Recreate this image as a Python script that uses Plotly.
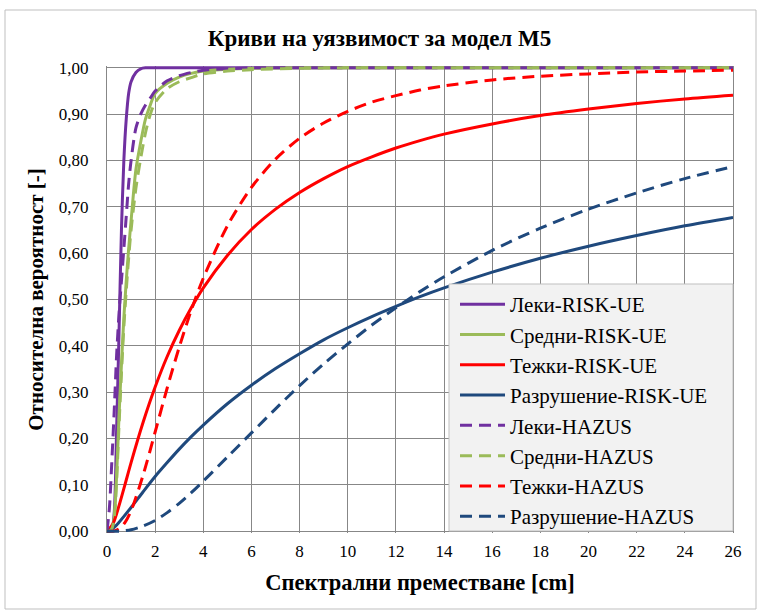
import plotly.graph_objects as go

# Spectral displacement samples [cm]
x_fast = [0, 0.1, 0.2, 0.3, 0.4, 0.5, 0.6, 0.7, 0.8, 0.9, 1.0, 1.2, 1.4, 1.6, 1.8,
          2.0, 2.5, 3.0, 3.5, 4.0, 5.0, 6.0, 8.0, 10.0, 14.0, 18.0, 22.0, 26.0]
x_slow = [0, 0.25, 0.5, 0.75, 1, 1.5, 2, 2.5, 3, 3.5, 4, 5, 6, 7, 8, 9, 10, 11, 12,
          13, 14, 16, 18, 20, 22, 24, 26]

# Exceedance probabilities, RISK-UE
leki_risk = [0, 0, 0.003, 0.04, 0.22, 0.43, 0.65, 0.80, 0.89, 0.945, 0.97, 0.99, 0.998,
             1.0, 1.0, 1.0, 1.0, 1.0, 1.0, 1.0, 1.0, 1.0, 1.0, 1.0, 1.0, 1.0, 1.0, 1.0]
sredni_risk = [0, 0, 0.005, 0.03, 0.12, 0.25, 0.36, 0.46, 0.54, 0.61, 0.67, 0.78, 0.84,
               0.89, 0.92, 0.945, 0.967, 0.98, 0.988, 0.993, 0.997, 0.999, 1.0, 1.0,
               1.0, 1.0, 1.0, 1.0]
tezhki_risk = [0, 0.016, 0.055, 0.101, 0.148, 0.235, 0.311, 0.377, 0.433, 0.482, 0.525,
               0.595, 0.651, 0.695, 0.731, 0.761, 0.787, 0.808, 0.827, 0.843, 0.857,
               0.879, 0.897, 0.911, 0.923, 0.933, 0.941]
razrush_risk = [0, 0.006, 0.019, 0.035, 0.051, 0.085, 0.118, 0.148, 0.177, 0.204, 0.229,
                0.275, 0.315, 0.351, 0.383, 0.413, 0.439, 0.463, 0.485, 0.506, 0.525,
                0.559, 0.589, 0.615, 0.638, 0.659, 0.677]

# Exceedance probabilities, HAZUS
leki_hazus = [0, 0.05, 0.15, 0.26, 0.38, 0.47, 0.54, 0.61, 0.68, 0.75, 0.80, 0.87, 0.90,
              0.92, 0.935, 0.95, 0.972, 0.983, 0.99, 0.995, 0.998, 1.0, 1.0, 1.0, 1.0,
              1.0, 1.0, 1.0]
sredni_hazus = [0, 0, 0.005, 0.03, 0.11, 0.23, 0.34, 0.44, 0.52, 0.59, 0.65, 0.74, 0.805,
                0.86, 0.90, 0.925, 0.955, 0.97, 0.979, 0.987, 0.993, 0.996, 0.999, 1.0,
                1.0, 1.0, 1.0, 1.0]
tezhki_hazus = [0, 0, 0.005, 0.019, 0.044, 0.121, 0.214, 0.309, 0.397, 0.477, 0.546,
                0.659, 0.742, 0.803, 0.848, 0.881, 0.906, 0.926, 0.94, 0.952, 0.961,
                0.974, 0.982, 0.987, 0.991, 0.993, 0.995]
razrush_hazus = [0, 0, 0, 0.001, 0.003, 0.011, 0.023, 0.04, 0.06, 0.083, 0.108, 0.16,
                 0.212, 0.264, 0.314, 0.361, 0.404, 0.445, 0.482, 0.517, 0.549, 0.606,
                 0.654, 0.695, 0.73, 0.761, 0.787]

PURPLE, GREEN, RED, NAVY = "#7030A0", "#9BBB59", "#FF0000", "#1F497D"
DASH = "12px,7px"

series = [
    ("Леки-RISK-UE", x_fast, leki_risk, PURPLE, "solid"),
    ("Средни-RISK-UE", x_fast, sredni_risk, GREEN, "solid"),
    ("Тежки-RISK-UE", x_slow, tezhki_risk, RED, "solid"),
    ("Разрушение-RISK-UE", x_slow, razrush_risk, NAVY, "solid"),
    ("Леки-HAZUS", x_fast, leki_hazus, PURPLE, DASH),
    ("Средни-HAZUS", x_fast, sredni_hazus, GREEN, DASH),
    ("Тежки-HAZUS", x_slow, tezhki_hazus, RED, DASH),
    ("Разрушение-HAZUS", x_slow, razrush_hazus, NAVY, DASH),
]

fig = go.Figure()
for name, xs, ys, color, dash in series:
    fig.add_trace(go.Scatter(
        x=xs, y=ys, name=name, mode="lines",
        line=dict(color=color, width=3, dash=dash, shape="spline", smoothing=0.8),
    ))

SERIF = "'Liberation Serif', 'Times New Roman', serif"
GRID = "#878787"

# pixel geometry of the plotting area (used to place paper-referenced items)
PLOT_L, PLOT_W, PLOT_B, PLOT_H = 107, 626, 533, 467


def px_x(px):
    return (px - PLOT_L) / PLOT_W


def px_y(py):
    return (PLOT_B - py) / PLOT_H


fig.update_layout(
    width=759, height=612,
    margin=dict(l=107, r=26, t=66, b=79),
    paper_bgcolor="white", plot_bgcolor="white",
    separators=", ",
    font=dict(family=SERIF, color="black", size=17),
    title=dict(text="Криви на уязвимост за модел M5", x=0.5, xref="container",
               xanchor="center", y=1 - 38 / 612, yanchor="middle",
               font=dict(family=SERIF, size=23, weight="bold", color="black")),
    xaxis=dict(range=[0, 26], tick0=0, dtick=2, showgrid=True, gridcolor=GRID,
               gridwidth=1, zeroline=False, showline=False, ticks="",
               ticklabelstandoff=6, tickfont=dict(family=SERIF, size=17),
               title=dict(text="Спектрални преместване [cm]", standoff=14,
                          font=dict(family=SERIF, size=22.5, weight="bold"))),
    yaxis=dict(range=[-0.004, 1.004], tick0=0, dtick=0.1, tickformat=".2f",
               showgrid=True, gridcolor=GRID, gridwidth=1, zeroline=False,
               showline=True, mirror=True, linecolor=GRID, linewidth=1, ticks="",
               ticklabelstandoff=14, tickfont=dict(family=SERIF, size=17),
               title=dict(text="Относителна вероятност [-]", standoff=9,
                          font=dict(family=SERIF, size=21, weight="bold"))),
    legend=dict(x=px_x(455), y=px_y(284), xanchor="left", yanchor="top",
                bgcolor="rgba(0,0,0,0)", borderwidth=0,
                font=dict(family=SERIF, size=21, color="black"),
                tracegroupgap=0, itemwidth=45),
    shapes=[
        # chart-area frame
        dict(type="rect", xref="paper", yref="paper",
             x0=px_x(5), x1=px_x(756), y0=px_y(609), y1=px_y(10),
             line=dict(color="#BFBFBF", width=1), layer="below"),
        # legend panel
        dict(type="rect", xref="paper", yref="paper",
             x0=px_x(449), x1=px_x(733), y0=px_y(531), y1=px_y(284),
             fillcolor="#F2F2F2", line=dict(color="#BFBFBF", width=1),
             layer="above"),
    ],
)

fig.write_html("out.html")
